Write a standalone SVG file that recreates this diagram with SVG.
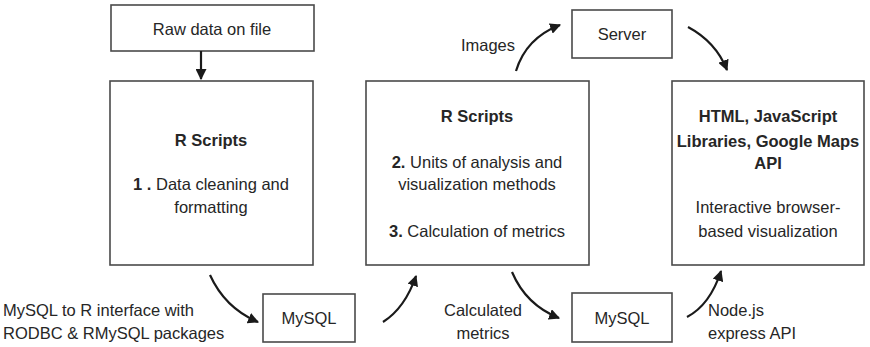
<svg xmlns="http://www.w3.org/2000/svg" width="870" height="347" viewBox="0 0 870 347">
<style>
.box{fill:#fff;stroke:#4a4a4a;stroke-width:1.6}
text{font-family:"Liberation Sans",Arial,sans-serif;font-size:16.5px;fill:#262626}
.c{text-anchor:middle}
.b{font-weight:bold}
.con{fill:none;stroke:#1a1a1a;stroke-width:2.2}
</style>
<defs>
<marker id="ah" viewBox="0 0 10 10" refX="9" refY="5" markerWidth="5" markerHeight="5" orient="auto" markerUnits="strokeWidth">
<path d="M0,0 L10,5 L0,10 z" fill="#1a1a1a"/>
</marker>
</defs>
<rect width="870" height="347" fill="#fff"/>
<g id="raw"><rect class="box" x="111" y="5" width="203" height="46"/><text class="c" x="212" y="35">Raw data on file</text></g>
<g id="rscripts1"><rect class="box" x="110" y="81" width="203" height="184"/>
<text class="c b" x="211" y="146">R Scripts</text>
<text class="c" x="211" y="190"><tspan class="b">1 .</tspan> Data cleaning and</text>
<text class="c" x="211" y="213">formatting</text></g>
<g id="rscripts2"><rect class="box" x="366" y="81" width="223" height="184"/>
<text class="c b" x="477" y="122">R Scripts</text>
<text class="c" x="477" y="168"><tspan class="b">2.</tspan> Units of analysis and</text>
<text class="c" x="477" y="190">visualization methods</text>
<text class="c" x="477" y="237"><tspan class="b">3.</tspan> Calculation of metrics</text></g>
<g id="html"><rect class="box" x="672" y="81" width="192" height="184"/>
<text class="c b" x="768" y="122">HTML, JavaScript</text>
<text class="c b" x="768" y="147">Libraries, Google Maps</text>
<text class="c b" x="768" y="169">API</text>
<text class="c" x="768" y="213">Interactive browser-</text>
<text class="c" x="768" y="237">based visualization</text></g>
<g id="server"><rect class="box" x="572" y="10" width="100" height="48"/><text class="c" x="622" y="40">Server</text></g>
<g id="mysql1"><rect class="box" x="263" y="294" width="92" height="48"/><text class="c" x="309" y="324">MySQL</text></g>
<g id="mysql2"><rect class="box" x="572" y="293" width="100" height="49"/><text class="c" x="622" y="324">MySQL</text></g>
<g id="labels">
<text x="3" y="316">MySQL to R interface with</text>
<text x="3" y="339">RODBC &amp; RMySQL packages</text>
<text class="c" x="488" y="51">Images</text>
<text class="c" x="483" y="316">Calculated</text>
<text class="c" x="483" y="339">metrics</text>
<text x="708" y="316">Node.js</text>
<text x="708" y="339">express API</text>
</g>
<g id="connectors">
<path class="con" d="M201,51 L201,79" marker-end="url(#ah)"/>
<path class="con" d="M210,275 Q225,308 258,322" marker-end="url(#ah)"/>
<path class="con" d="M383,322 Q405,308 416,276" marker-end="url(#ah)"/>
<path class="con" d="M512,272 Q526,305 559,318" marker-end="url(#ah)"/>
<path class="con" d="M687,317 Q710,305 721,271" marker-end="url(#ah)"/>
<path class="con" d="M516,71 Q526,38 560,25" marker-end="url(#ah)"/>
<path class="con" d="M688,27 Q716,42 727,70" marker-end="url(#ah)"/>
</g>
</svg>
